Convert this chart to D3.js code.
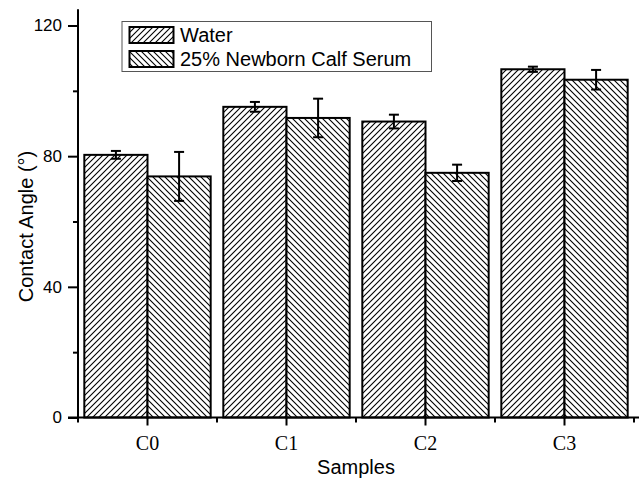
<!DOCTYPE html>
<html><head><meta charset="utf-8">
<script src="https://cdn.jsdelivr.net/npm/d3@7"></script>
<style>html,body{margin:0;padding:0;background:#fff;}svg{display:block;}</style>
</head><body>
<script>
const categories = ["C0", "C1", "C2", "C3"];
const seriesNames = ["Water", "25% Newborn Calf Serum"];
const waterValues = [80.4, 95.1, 90.6, 106.6];
const waterErrors = [1.2, 1.5, 2.1, 0.8];
const serumValues = [73.8, 91.7, 74.9, 103.4];
const serumErrors = [7.5, 5.9, 2.5, 3.0];
const yTicks = [0, 40, 80, 120];
const yMinorTicks = [20, 60, 100];

const W = 639, H = 482;
const svg = d3.select("body").append("svg").attr("width", W).attr("height", H)
  .style("font-family", "'Liberation Sans', Arial, sans-serif");

const defs = svg.append("defs");
function hatch(id, d) {
  const p = defs.append("pattern").attr("id", id).attr("patternUnits", "userSpaceOnUse")
    .attr("width", 6).attr("height", 6);
  p.append("rect").attr("width", 6).attr("height", 6).attr("fill", "#fff");
  p.append("path").attr("d", d).attr("stroke", "#000").attr("stroke-width", 1.1).attr("fill", "none");
}
hatch("h1", "M-1,1 L1,-1 M0,6 L6,0 M5,7 L7,5");
hatch("h2", "M-1,5 L1,7 M0,0 L6,6 M5,-1 L7,1");
const fills = ["url(#h1)", "url(#h2)"];

const x0 = 78, x1 = 634, yBase = 417.5;
const x = d3.scaleBand().domain(categories).range([x0, x1]).padding(0);
const xs = d3.scaleBand().domain(seriesNames).range([0, x.bandwidth()]).paddingOuter(0.1).paddingInner(0);
const y = d3.scaleLinear().domain([0, 125]).range([yBase, yBase - 125 * (392 / 120)]);

const data = [];
categories.forEach((c, i) => {
  data.push({c, s: seriesNames[0], v: waterValues[i], e: waterErrors[i], k: 0});
  data.push({c, s: seriesNames[1], v: serumValues[i], e: serumErrors[i], k: 1});
});

// bars
svg.append("g").selectAll("rect").data(data).join("rect")
  .attr("x", d => x(d.c) + xs(d.s))
  .attr("y", d => y(d.v))
  .attr("width", xs.bandwidth())
  .attr("height", d => y(0) - y(d.v))
  .attr("fill", d => fills[d.k])
  .attr("stroke", "#000").attr("stroke-width", 2);

// error bars
const eg = svg.append("g").attr("stroke", "#000").attr("stroke-width", 2);
data.forEach(d => {
  const cx = x(d.c) + xs(d.s) + xs.bandwidth() / 2;
  eg.append("line").attr("x1", cx).attr("x2", cx).attr("y1", y(d.v + d.e)).attr("y2", y(d.v - d.e));
  eg.append("line").attr("x1", cx - 5).attr("x2", cx + 5).attr("y1", y(d.v + d.e)).attr("y2", y(d.v + d.e));
  eg.append("line").attr("x1", cx - 5).attr("x2", cx + 5).attr("y1", y(d.v - d.e)).attr("y2", y(d.v - d.e));
});

// y axis
const yAxis = d3.axisLeft(y).tickValues(yTicks).tickSize(10).tickPadding(6).tickFormat(d3.format("d"));
const ya = svg.append("g").attr("transform", `translate(${x0},0)`).call(yAxis);
ya.select(".domain").remove();
ya.selectAll(".tick line").attr("stroke", "#000").attr("stroke-width", 2);
ya.selectAll(".tick text").attr("font-size", 17).attr("fill", "#000")
  .style("font-family", "'Liberation Sans', Arial, sans-serif");
ya.append("line").attr("x1", 0).attr("x2", 0).attr("y1", y(125)).attr("y2", yBase + 5)
  .attr("stroke", "#000").attr("stroke-width", 2);
const yMinor = d3.axisLeft(y).tickValues(yMinorTicks).tickSize(5).tickFormat("");
const ym = svg.append("g").attr("transform", `translate(${x0},0)`).call(yMinor);
ym.select(".domain").remove();
ym.selectAll(".tick line").attr("stroke", "#000").attr("stroke-width", 2);

// x axis
const xAxis = d3.axisBottom(x).tickSize(8).tickPadding(10);
const xa = svg.append("g").attr("transform", `translate(0,${yBase})`).call(xAxis);
xa.select(".domain").remove();
xa.selectAll(".tick line").attr("stroke", "#000").attr("stroke-width", 2);
xa.selectAll(".tick text").attr("font-size", 20).attr("fill", "#000")
  .style("font-family", "'Liberation Serif', 'Times New Roman', serif");
xa.append("line").attr("x1", x0 - 10).attr("x2", W).attr("y1", 0).attr("y2", 0)
  .attr("stroke", "#000").attr("stroke-width", 2);
const boundaries = categories.map(c => x(c) + x.bandwidth());
xa.selectAll(".minor").data(boundaries).join("line").attr("class", "minor")
  .attr("x1", d => d).attr("x2", d => d).attr("y1", 0).attr("y2", 5)
  .attr("stroke", "#000").attr("stroke-width", 2);

// axis titles
svg.append("text").attr("x", 356).attr("y", 474).attr("text-anchor", "middle")
  .attr("font-size", 20).text("Samples");
svg.append("text").attr("transform", `translate(33,226.5) rotate(-90)`).attr("text-anchor", "middle")
  .attr("font-size", 20).text("Contact Angle (°)");

// legend
const lg = svg.append("g");
lg.append("rect").attr("x", 122).attr("y", 21.5).attr("width", 309.5).attr("height", 50)
  .attr("fill", "#fff").attr("stroke", "#555").attr("stroke-width", 1);
seriesNames.forEach((s, i) => {
  const yy = 27 + i * 24;
  lg.append("rect").attr("x", 129.5).attr("y", yy).attr("width", 44).attr("height", 16)
    .attr("fill", fills[i]).attr("stroke", "#000").attr("stroke-width", 2);
  lg.append("text").attr("x", 180).attr("y", yy + 15).attr("font-size", 20).text(s);
});
</script>
</body></html>
